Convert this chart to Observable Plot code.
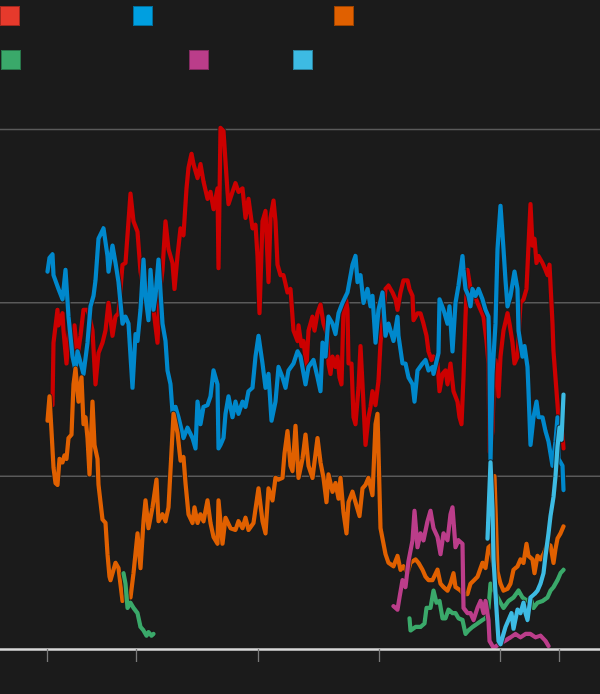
<!DOCTYPE html>
<html><head><meta charset="utf-8">
<script src="https://cdn.jsdelivr.net/npm/d3@7"></script>
<script src="https://cdn.jsdelivr.net/npm/@observablehq/plot@0.6"></script>
<style>
html,body{margin:0;padding:0;background:#1b1b1b;width:600px;height:694px;overflow:hidden;}
#legend{position:relative;height:90px;width:600px;}
.sw{position:absolute;width:20px;height:20px;box-sizing:border-box;border:1px solid rgba(0,0,0,0.3);}
#chart svg{display:block;}
</style></head><body>
<div id="legend"></div>
<div id="chart"></div>
<script>
// Series: [day since start, value]
const seriesKeys = ["red", "blue", "orange", "green", "magenta", "lightblue"];
const legendColors = ["#e63a2c", "#009fe0", "#e06000", "#3aa96a", "#bb3d8a", "#3dbbe3"];
const lineColors = ["#cc0000", "#0088cc", "#e06000", "#3aa96a", "#bb3d8a", "#3dbbe3"];
const tickDays = [0, 267, 633, 996, 1359, 1536];
const gridValues = [10, 20, 30];

const red = [[15,14.1],[18,17.7],[30,19.6],[33,18.7],[45,19.4],[48,18.4],[57,16.5],[66,18.8],[75,17.2],[81,18.7],[90,16.9],[99,18.1],[108,19.6],[120,19.6],[126,19.2],[135,18.4],[144,15.3],[153,17.1],[165,17.7],[174,18.4],[183,20.0],[195,18.1],[204,19.2],[213,19.4],[225,22.2],[234,22.3],[240,23.9],[249,26.3],[258,24.7],[270,24.1],[279,21.8],[288,20.8],[300,20.0],[306,21.2],[318,19.6],[330,17.7],[336,20.4],[345,21.9],[354,24.7],[363,23.1],[375,22.3],[381,20.8],[390,22.7],[399,24.3],[408,23.9],[417,26.6],[423,27.8],[432,28.6],[438,28.0],[450,27.2],[459,28.0],[468,27.0],[480,26.0],[489,26.4],[498,25.4],[510,26.6],[513,22.0],[519,30.1],[528,29.9],[540,26.4],[543,25.7],[555,26.4],[564,26.9],[573,26.4],[585,26.6],[594,24.9],[603,26.0],[615,24.3],[624,24.5],[630,22.7],[636,19.4],[645,24.7],[654,25.3],[663,21.2],[669,24.9],[678,25.9],[684,24.7],[690,22.2],[699,21.6],[708,21.6],[720,20.6],[729,20.8],[738,18.4],[750,17.8],[753,18.7],[762,17.5],[768,17.8],[777,16.3],[783,18.4],[795,19.2],[801,18.4],[810,19.4],[819,19.9],[828,18.8],[840,18.1],[843,16.5],[849,15.9],[855,16.9],[864,16.3],[870,16.9],[876,15.7],[882,15.3],[888,19.6],[894,20.4],[900,19.6],[903,16.5],[912,16.5],[918,13.4],[924,13.0],[933,15.1],[939,17.5],[945,15.3],[954,11.8],[963,13.4],[969,14.0],[975,14.9],[984,14.1],[993,15.5],[999,17.7],[1005,19.0],[1014,20.8],[1023,21.0],[1035,20.6],[1044,20.2],[1050,19.6],[1059,20.6],[1068,21.3],[1080,21.3],[1086,20.8],[1095,20.4],[1098,19.0],[1110,19.4],[1119,19.4],[1128,18.8],[1137,18.1],[1143,17.2],[1152,16.7],[1158,16.9],[1170,16.5],[1176,14.9],[1185,15.9],[1194,16.1],[1200,15.3],[1209,16.5],[1218,14.9],[1230,14.3],[1236,13.4],[1242,13.0],[1248,15.7],[1254,19.2],[1260,21.9],[1269,20.8],[1278,20.6],[1290,20.0],[1299,19.6],[1308,19.2],[1317,17.8],[1323,16.5],[1326,11.4],[1335,12.6],[1338,14.9],[1344,16.7],[1350,15.7],[1353,14.6],[1359,16.9],[1368,18.4],[1380,19.4],[1386,18.8],[1395,17.7],[1401,16.5],[1410,16.9],[1419,20.0],[1428,20.2],[1437,20.8],[1443,23.3],[1449,25.7],[1455,23.3],[1461,23.7],[1467,22.3],[1473,22.7],[1485,22.3],[1494,21.9],[1500,21.6],[1506,22.2],[1515,18.8],[1518,17.2],[1527,14.9],[1533,13.4],[1539,13.0],[1545,12.4],[1548,11.6]];

const blue = [[0,21.8],[6,22.6],[15,22.8],[18,21.6],[33,20.8],[45,20.2],[54,21.9],[63,19.2],[75,16.9],[84,16.1],[90,17.2],[108,15.9],[120,17.7],[129,19.8],[138,20.4],[144,21.3],[153,23.7],[168,24.3],[180,22.7],[183,21.8],[195,23.3],[204,22.3],[213,21.2],[225,18.8],[234,19.2],[243,18.8],[255,15.1],[264,18.2],[270,17.8],[279,19.6],[288,22.5],[294,20.4],[303,19.0],[309,21.9],[318,19.6],[324,20.4],[333,22.5],[345,18.8],[354,17.8],[360,16.1],[369,15.3],[375,13.7],[384,14.0],[393,13.4],[408,12.2],[420,12.8],[435,12.2],[444,11.6],[450,14.3],[459,13.0],[468,14.0],[480,14.1],[489,14.6],[498,16.1],[510,15.3],[513,11.6],[519,11.8],[528,12.2],[534,13.6],[543,14.6],[555,13.4],[564,14.3],[573,13.6],[585,14.3],[594,14.0],[603,14.9],[615,15.1],[624,16.9],[633,18.1],[645,16.5],[654,15.1],[663,15.9],[672,13.2],[684,14.3],[693,16.3],[705,15.7],[714,15.1],[723,16.1],[738,16.5],[750,17.2],[759,16.9],[774,15.3],[783,16.3],[798,16.7],[810,15.7],[819,14.9],[825,17.7],[834,16.9],[843,19.2],[855,18.8],[864,18.2],[873,19.4],[885,20.0],[900,20.6],[915,22.2],[924,22.7],[930,21.2],[939,21.6],[948,20.0],[960,20.8],[969,19.8],[975,20.4],[984,17.7],[993,19.6],[1005,20.6],[1014,18.1],[1023,18.8],[1038,17.8],[1050,19.2],[1053,18.1],[1065,16.5],[1074,16.5],[1083,15.7],[1095,15.3],[1101,14.3],[1110,16.1],[1125,16.5],[1134,16.7],[1143,16.1],[1155,16.3],[1158,15.9],[1173,17.1],[1176,20.2],[1188,19.6],[1200,18.8],[1206,19.8],[1215,17.2],[1224,20.0],[1233,21.0],[1245,22.7],[1248,21.9],[1254,20.8],[1263,20.4],[1269,19.8],[1275,20.8],[1284,20.4],[1293,20.8],[1305,20.2],[1314,19.6],[1323,19.2],[1326,17.2],[1329,10.9],[1335,15.9],[1344,18.8],[1350,23.1],[1359,25.6],[1368,23.1],[1374,21.3],[1380,19.8],[1389,20.4],[1401,21.8],[1410,20.8],[1413,18.4],[1425,16.9],[1431,17.5],[1440,16.3],[1443,14.9],[1449,11.8],[1458,13.4],[1467,14.3],[1473,13.4],[1485,13.4],[1494,12.6],[1503,12.0],[1515,10.6],[1524,12.0],[1530,13.4],[1533,11.0],[1545,10.6],[1548,9.2]];

const orange = [[0,13.2],[6,14.6],[12,12.6],[18,10.5],[24,9.6],[30,9.5],[36,11.0],[45,10.8],[51,11.2],[57,11.0],[63,12.2],[72,12.4],[78,15.3],[84,16.2],[90,14.9],[93,14.3],[102,15.7],[108,13.0],[114,13.4],[120,12.2],[126,10.1],[135,14.3],[141,11.8],[150,11.0],[153,9.5],[165,7.5],[174,7.3],[180,5.5],[186,4.2],[189,4.0],[204,5.0],[213,4.7],[225,2.8],[237,3.1],[249,3.0],[258,4.4],[270,6.7],[279,4.7],[288,7.4],[294,8.6],[303,7.0],[315,8.2],[327,9.8],[333,7.4],[345,7.8],[354,7.4],[363,8.2],[375,12.5],[378,13.6],[390,12.5],[399,10.9],[408,11.1],[414,9.6],[423,7.8],[435,7.3],[441,8.2],[450,7.3],[459,7.8],[468,7.4],[480,8.6],[489,7.3],[498,6.5],[510,6.1],[513,8.6],[525,6.1],[534,7.6],[549,7.0],[564,6.9],[573,7.4],[585,7.0],[594,7.6],[603,6.9],[618,7.3],[633,9.3],[645,7.4],[654,6.7],[663,9.3],[675,8.6],[684,9.9],[693,9.8],[705,9.9],[711,11.3],[720,12.6],[729,10.6],[735,10.3],[744,12.9],[753,9.9],[765,11.0],[774,12.4],[783,10.6],[795,9.9],[810,12.2],[819,10.8],[828,9.9],[837,8.5],[843,10.1],[855,9.1],[864,9.6],[873,8.7],[879,9.9],[888,7.9],[897,6.7],[903,8.5],[915,9.1],[924,8.5],[936,7.7],[945,9.3],[954,9.5],[963,9.9],[975,8.9],[984,13.0],[990,13.6],[999,7.0],[1014,5.5],[1023,5.0],[1038,4.8],[1050,5.4],[1059,4.6],[1068,4.8],[1080,4.4],[1089,5.0],[1104,5.2],[1113,5.0],[1125,4.6],[1134,4.2],[1143,4.0],[1155,4.0],[1170,4.6],[1179,3.8],[1188,3.6],[1200,3.4],[1209,3.8],[1218,4.4],[1224,3.6],[1239,3.4],[1248,3.2],[1260,3.2],[1269,3.8],[1290,4.2],[1305,5.0],[1314,4.7],[1323,5.9],[1329,6.0],[1338,4.8],[1341,10.0],[1350,4.5],[1359,3.8],[1368,3.4],[1380,3.5],[1389,3.8],[1398,4.6],[1410,4.8],[1419,5.2],[1428,5.0],[1437,6.1],[1443,5.4],[1455,5.2],[1461,4.4],[1470,5.4],[1479,5.2],[1488,5.5],[1500,6.1],[1509,6.0],[1518,5.0],[1524,5.8],[1530,6.4],[1539,6.7],[1548,7.1]];

const greenEarly = [[228,4.4],[234,3.8],[240,2.4],[249,2.7],[258,2.4],[270,2.1],[279,1.3],[288,1.1],[297,0.8],[303,1.0],[312,0.8],[318,0.9]];
const greenLate = [[1086,1.8],[1089,1.1],[1104,1.3],[1119,1.3],[1131,1.5],[1137,2.4],[1149,2.4],[1158,3.4],[1167,2.7],[1176,2.8],[1185,1.8],[1194,1.8],[1203,2.3],[1215,2.1],[1224,2.1],[1233,1.8],[1245,1.7],[1254,0.9],[1263,1.1],[1275,1.3],[1290,1.5],[1305,1.7],[1314,1.8],[1323,2.4],[1329,3.8],[1359,2.7],[1368,2.4],[1383,2.8],[1398,3.0],[1413,3.4],[1425,3.0],[1440,2.8],[1449,3.0],[1458,2.4],[1470,2.7],[1485,2.8],[1500,3.0],[1509,3.4],[1518,3.6],[1530,4.0],[1539,4.4],[1548,4.6]];

const magenta = [[1038,2.5],[1050,2.3],[1056,3.0],[1065,4.0],[1074,3.6],[1083,5.1],[1095,6.3],[1101,8.0],[1110,5.9],[1119,6.7],[1128,6.3],[1140,7.4],[1149,8.0],[1158,7.0],[1170,6.5],[1179,5.5],[1188,6.7],[1200,6.3],[1209,7.8],[1215,8.2],[1224,5.9],[1233,6.3],[1245,6.1],[1248,2.4],[1260,2.1],[1269,2.1],[1278,1.7],[1290,2.4],[1299,2.8],[1308,2.1],[1314,2.8],[1323,1.7],[1326,0.5],[1338,0.1],[1389,0.7],[1404,0.9],[1419,0.7],[1434,0.9],[1449,0.9],[1464,0.7],[1479,0.8],[1494,0.5],[1503,0.2]];

const lightblue = [[1320,6.4],[1329,10.8],[1335,8.1],[1338,5.2],[1347,2.3],[1353,0.5],[1359,0.3],[1368,0.9],[1374,1.3],[1383,1.7],[1392,2.1],[1398,1.2],[1410,2.3],[1419,2.1],[1428,2.7],[1434,2.1],[1440,1.7],[1449,3.0],[1461,3.2],[1470,3.4],[1479,3.8],[1488,4.4],[1494,5.4],[1503,6.7],[1509,7.7],[1518,8.8],[1524,10.0],[1530,11.7],[1536,12.8],[1542,12.1],[1548,14.7]];

// ---- legend (swatches only; the reference shows no label text) ----
const legendSpots = [[0,6],[133,6],[334,6],[1,50],[189,50],[293,50]];
const legend = document.getElementById("legend");
seriesKeys.forEach((k, i) => {
  const s = document.createElement("div");
  s.className = "sw";
  s.style.left = legendSpots[i][0] + "px";
  s.style.top = legendSpots[i][1] + "px";
  s.style.background = legendColors[i];
  legend.appendChild(s);
});

// ---- chart ----
const bg = "#1b1b1b";
const seriesData = [[red], [blue], [orange], [greenEarly, greenLate], [magenta], [lightblue]];
const lineMarks = [];
seriesData.forEach((parts, i) => {
  parts.forEach(arr => {
    lineMarks.push(Plot.line(arr, {x: d => d[0], y: d => d[1], stroke: bg, strokeWidth: 6, strokeLinejoin: "round", strokeLinecap: "round", strokeOpacity: 0.8}));
    lineMarks.push(Plot.line(arr, {x: d => d[0], y: d => d[1], stroke: lineColors[i], strokeWidth: 4.2, strokeLinejoin: "round", strokeLinecap: "round"}));
  });
});

const chart = Plot.plot({
  width: 600,
  height: 604,
  marginTop: 39,
  marginBottom: 45,
  marginLeft: 0,
  marginRight: 0,
  style: {background: bg, overflow: "visible"},
  x: {domain: [-141, 1659], axis: null},
  y: {domain: [0, 30], axis: null},
  marks: [
    Plot.ruleY(gridValues, {stroke: "#5a5a5a", strokeWidth: 1.5}),
    ...lineMarks,
    Plot.ruleY([0], {stroke: "#d8d8d8", strokeWidth: 2.5}),
    Plot.axisX({ticks: tickDays, tickSize: 13, tickFormat: () => "", stroke: "#7a7a7a", strokeWidth: 1.3})
  ]
});
document.getElementById("chart").appendChild(chart);
</script>
</body></html>
